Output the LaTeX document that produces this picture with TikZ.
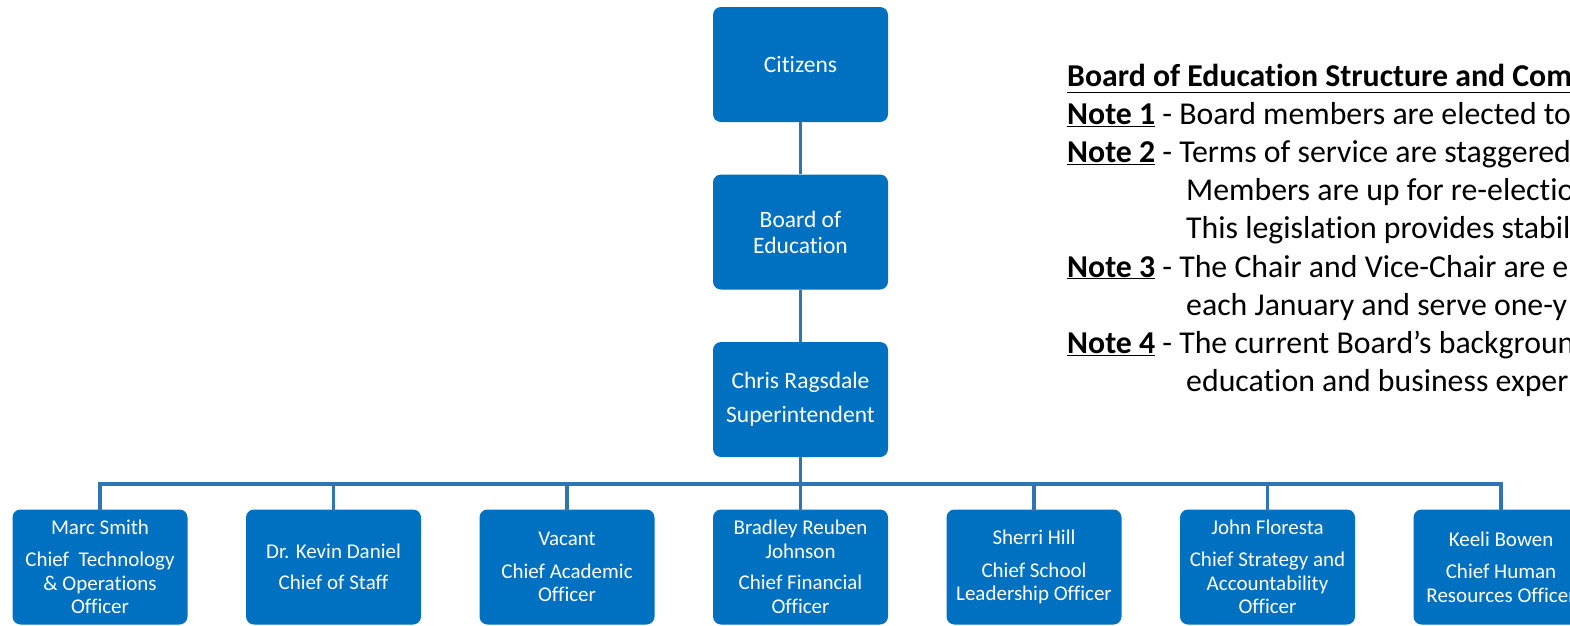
\documentclass[tikz,border=0pt]{standalone}
\usepackage{fontspec}
\setmainfont{Carlito}[Ligatures={NoCommon}]
\usetikzlibrary{positioning}
\definecolor{boxblue}{HTML}{0070C0}
\definecolor{linkblue}{HTML}{2E75B6}
\tikzset{
  orgbox/.style={draw=none, fill=boxblue, rounded corners=8pt, minimum width=175pt, minimum height=115pt,
    inner sep=0pt, text=white, align=center},
  topfont/.style={font={\fontsize{23.5}{26}\selectfont}},
  lowfont/.style={font={\fontsize{21}{23.5}\selectfont}},
  link/.style={draw=linkblue, line width=3.5pt},
  notetext/.style={anchor=base west, inner sep=0pt, font={\fontsize{31.8}{38}\selectfont}, text=black}
}
\newcommand{\ulbold}[1]{\underline{\textbf{#1}}}
\begin{document}
\begin{tikzpicture}[x=1pt,y=-1pt]
\useasboundingbox (0,0) rectangle (1570,625);
\clip (0,0) rectangle (1570,625);

% top chain
\node[orgbox, topfont] (cit) at (800.5,64.5) {Citizens};
\node[orgbox, topfont] (boe) at (800.5,232) {Board of\\Education};
\node[orgbox, topfont] (sup) at (800.5,399.5) {Chris Ragsdale\\[8pt]Superintendent};

% bottom row
\node[orgbox, lowfont] (c1) at (100,567) {Marc Smith\\[9pt]Chief~~Technology\\\& Operations\\Officer};
\node[orgbox, lowfont] (c2) at (333.5,567) {Dr. Kevin Daniel\\[8pt]Chief of Staff};
\node[orgbox, lowfont] (c3) at (567,567) {Vacant\\[9pt]Chief Academic\\Officer};
\node[orgbox, lowfont] (c4) at (800.5,567) {Bradley Reuben\\Johnson\\[8pt]Chief Financial\\Officer};
\node[orgbox, lowfont] (c5) at (1034,567) {Sherri Hill\\[9pt]Chief School\\Leadership Officer};
\node[orgbox, lowfont] (c6) at (1267.5,567) {John Floresta\\[9pt]Chief Strategy and\\Accountability\\Officer};
\node[orgbox, lowfont] (c7) at (1501,567) {Keeli Bowen\\[9pt]Chief Human\\Resources Officer};

% connectors
\draw[link] (cit.south) -- (boe.north);
\draw[link] (boe.south) -- (sup.north);
\coordinate (bus) at (800.5,484);
\draw[link] (sup.south) -- (bus);
\foreach \c in {c1,c2,c3,c4,c5,c6,c7}{
  \draw[link, line cap=rect] (bus) -| (\c.north);
}

% notes
\node[notetext] (title) at (1067,86) {\ulbold{Board of Education Structure and Composition}};
\node[notetext] (n1) at (1067,124.2) {\ulbold{Note 1} - Board members are elected to};
\node[notetext] (n2) at (1067,162.4) {\ulbold{Note 2} - Terms of service are staggered};
\node[notetext] (n2b) at (1186,200.6) {Members are up for re-electio};
\node[notetext] (n2c) at (1186,238.8) {This legislation provides stabil};
\node[notetext] (n3) at (1067,277) {\ulbold{Note 3} - The Chair and Vice-Chair are e};
\node[notetext] (n3b) at (1186,315.2) {each January and serve one-y};
\node[notetext] (n4) at (1067,353.4) {\ulbold{Note 4} - The current Board’s backgroun};
\node[notetext] (n4b) at (1186,391.6) {education and business exper};
\end{tikzpicture}
\end{document}
